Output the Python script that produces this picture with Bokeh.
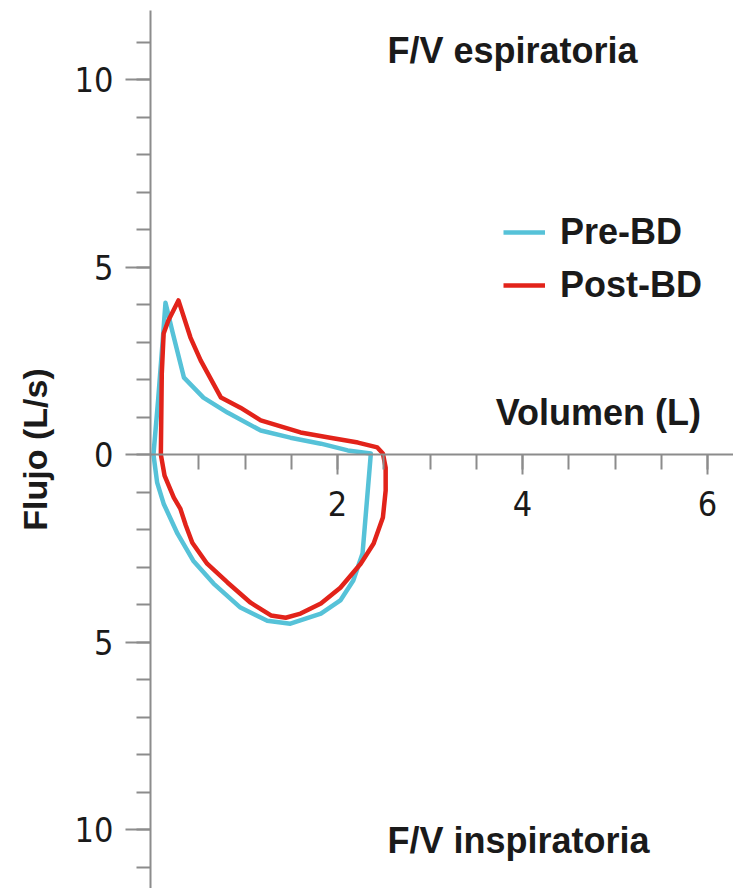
from bokeh.plotting import figure
from bokeh.models import LinearAxis, FixedTicker, Range1d, Label, Legend, LegendItem
from bokeh.embed import file_html
from bokeh.resources import INLINE

# Pre-BD loop (volume L, flow L/s; expiratory positive, inspiratory negative)
pre_vol = [0.01, 0.06, 0.11, 0.14, 0.22, 0.34, 0.55, 0.81, 1.17, 1.49, 1.82, 2.11, 2.36,
           2.27, 2.17, 2.03, 1.82, 1.49, 1.24, 0.95, 0.66, 0.44, 0.27, 0.12, 0.05, 0.01]
pre_flow = [0.0, 1.44, 3.04, 4.05, 3.23, 2.05, 1.52, 1.12, 0.64, 0.45, 0.29, 0.11, 0.03,
            -2.64, -3.36, -3.89, -4.24, -4.51, -4.43, -4.08, -3.44, -2.83, -2.11, -1.31, -0.75, 0.0]

# Post-BD loop
post_vol = [0.09, 0.10, 0.12, 0.17, 0.28, 0.41, 0.52, 0.74, 0.95, 1.17, 1.60, 1.92, 2.22, 2.43, 2.49,
            2.52, 2.52, 2.49, 2.39, 2.25, 2.03, 1.82, 1.60, 1.44, 1.28, 1.06, 0.81, 0.59, 0.43,
            0.36, 0.30, 0.23, 0.13, 0.09]
post_flow = [0.0, 2.16, 3.23, 3.57, 4.11, 3.12, 2.51, 1.52, 1.25, 0.91, 0.59, 0.45, 0.32, 0.19, 0.03,
             -0.35, -0.96, -1.68, -2.37, -2.91, -3.55, -3.97, -4.24, -4.35, -4.29, -3.95, -3.41, -2.91,
             -2.35, -1.89, -1.44, -1.15, -0.56, 0.0]

y_major = [-10, -5, 0, 5, 10]
y_labels = {-10: "10", -5: "5", 0: "0", 5: "5", 10: "10"}
y_minor = list(range(-11, 12))
x_major = [2, 4, 6]
x_minor = [0.5, 1, 1.5, 2, 2.5, 3, 3.5, 4, 4.5, 5, 5.5, 6]

series_names = ["Pre-BD", "Post-BD"]
series_colors = ["#56C2D8", "#E2231A"]

AXIS_GRAY = "#8c8c8c"
TXT = "#1a1a1a"
TICK_FONT = "Liberation Sans Narrow, DejaVu Sans Condensed, Liberation Sans"
MAIN_FONT = "Liberation Sans"

p = figure(width=733, height=888, output_backend="svg", toolbar_location=None,
           x_axis_location=None, y_axis_location="left",
           x_range=Range1d(-0.022, 6.28), y_range=Range1d(-11.57, 11.84),
           min_border_left=150, min_border_right=0, min_border_top=10, min_border_bottom=0)
p.outline_line_color = None
p.xgrid.visible = False
p.ygrid.visible = False
p.background_fill_color = "white"
p.border_fill_color = "white"

ya = p.yaxis[0]
ya.ticker = FixedTicker(ticks=y_major, minor_ticks=y_minor)
ya.major_label_overrides = y_labels
ya.axis_line_color = AXIS_GRAY
ya.axis_line_width = 2
ya.major_tick_line_color = AXIS_GRAY
ya.major_tick_line_width = 2
ya.minor_tick_line_color = AXIS_GRAY
ya.minor_tick_line_width = 2
ya.major_tick_in = 0
ya.major_tick_out = 25
ya.minor_tick_in = 0
ya.minor_tick_out = 14
ya.major_label_standoff = 12
ya.major_label_text_font = TICK_FONT
ya.major_label_text_font_size = "34px"
ya.major_label_text_color = TXT
ya.axis_label = "Flujo (L/s)"
ya.axis_label_text_font = MAIN_FONT
ya.axis_label_text_font_style = "bold"
ya.axis_label_text_font_size = "34px"
ya.axis_label_text_color = TXT
ya.axis_label_standoff = 18

xa = LinearAxis(fixed_location=0, ticker=FixedTicker(ticks=x_major, minor_ticks=x_minor))
xa.axis_line_color = AXIS_GRAY
xa.axis_line_width = 2
xa.major_tick_line_color = AXIS_GRAY
xa.major_tick_line_width = 2
xa.minor_tick_line_color = AXIS_GRAY
xa.minor_tick_line_width = 2
xa.major_tick_in = 0
xa.major_tick_out = 20
xa.minor_tick_in = 0
xa.minor_tick_out = 15
xa.major_label_standoff = 16
xa.major_label_text_font = TICK_FONT
xa.major_label_text_font_size = "34px"
xa.major_label_text_color = TXT
p.add_layout(xa, "below")

r_pre = p.line(pre_vol, pre_flow, line_color=series_colors[0], line_width=4.5, line_join="round")
r_post = p.line(post_vol, post_flow, line_color=series_colors[1], line_width=4.5, line_join="round")

for txt, x, y in [("F/V espiratoria", 2.54, 10.77), ("F/V inspiratoria", 2.54, -10.29),
                  ("Volumen (L)", 3.71, 1.12)]:
    p.add_layout(Label(x=x, y=y, text=txt, text_font=MAIN_FONT, text_font_style="bold",
                       text_font_size="36px", text_color=TXT, text_baseline="alphabetic"))

legend = Legend(items=[LegendItem(label=series_names[0], renderers=[r_pre]),
                       LegendItem(label=series_names[1], renderers=[r_post])],
                location=(353, 582), orientation="vertical",
                glyph_width=42, glyph_height=34, label_height=34, label_standoff=15,
                spacing=11, padding=0, margin=0,
                label_text_font=MAIN_FONT, label_text_font_style="bold",
                label_text_font_size="36px", label_text_color=TXT,
                border_line_color=None, background_fill_alpha=0)
p.add_layout(legend)

open("out.html", "w").write(file_html(p, INLINE))
